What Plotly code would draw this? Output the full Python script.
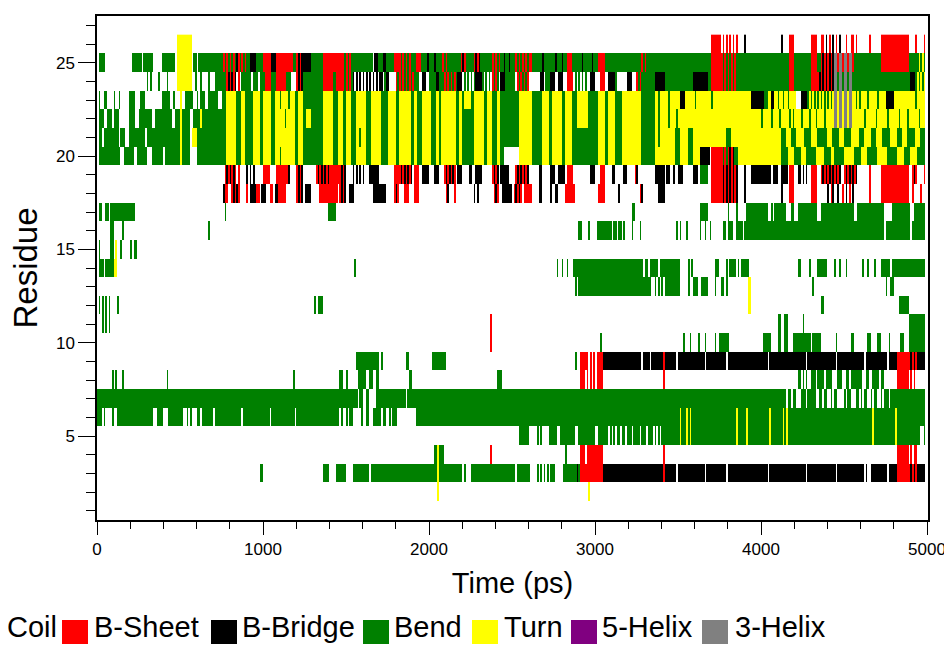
import numpy as np
import plotly.graph_objects as go

# DSSP secondary-structure states (code, name, colour)
STATE_CODES = ["~", "E", "B", "S", "T", "I", "G"]
STATE_NAMES = ["Coil", "B-Sheet", "B-Bridge", "Bend", "Turn", "5-Helix", "3-Helix"]
STATE_COLORS = ["#ffffff", "#ff0000", "#000000", "#008000", "#ffff00", "#800080", "#808080"]

T_END = 5000   # ps
DT = 10        # ps per frame

# Per-residue state runs: "<codes><start>[-<end>]" in ps, coil elsewhere.
# Several codes in one run alternate frame by frame.
turn_band = ("S780-3360 T780-840 T870-890 T940-980 T1000-1050 T1070-1190 T1210-1240 "
             "T1360-1420 T1450-1480 T1500-1530 T1560-1620 T1650-1710 T1750-1800 T1820-1890 "
             "T1910-1930 T1960-2010 T2040-2060 T2070-2160 T2180-2200 T2270-2330 T2350-2380 "
             "T2410-2430 T2540-2620 T2680-2720 T2740-2800 T2820-2860 T2890-2960 T3020-3060 "
             "T3080-3120 T3160-3280")

res01 = ""
res02 = "T2050 T2960"
res03 = ("S985 S1365-1400 S1440-1500 S1545-1595 S1605-1640 S1650-2205 S2215-2225 S2255-2515 "
         "S2535-2610 S2655 S2675 S2695 S2715 S2735-2755 S2810-2880 SB2880-2910 T2050 "
         "E2910-3050 B3050-4825 ~3490 ~3660 ~3790 ~4040 ~4270 ~4450 ~4620 ~4645 ~4760 "
         "E3415 E4825-4890 EB4890-4940 B4940-4990")
res04 = ("S2030-2090 T2050 E2375 S2820 E2910-2940 E2950-2975 E2985-3050 E3415 "
         "E4825-4890 E4900 E4925")
res05 = ("S2540-2600 S2650 S2670 S2720-2770 S2790-2880 S2900-3000 S3020-4990 ~3080 ~3100 "
         "~3120 ~3150 ~3180 ~3220 ~3270 ~3310 ~3350 ~3370 ~3390 ~4965 T3510 T3555 T3570 "
         "T3850 T3910 T4055 T4135 T4150 T4675 T4810")
res06 = ("S0-4990 ~30 ~50 ~65 ~80 ~105 ~345 ~400-430 ~525 ~550 ~570-600 ~620 ~700 ~870 "
         "~1040 ~1195 ~1460 ~1485 ~1515 ~1545-1625 S1590 ~1645 ~1715 ~1745 ~1775 ~1815 "
         "~1826-1916 T3510 T3555 T3570 T3850 T3910 T4055 T4135 T4150 T4675 T4810")
res07 = ("S0-4990 ~1575 ~1605 ~1645 ~1665 ~1860 ~4150 ~4180 ~4210-4240 ~4270 ~4330-4350 "
         "~4375 ~4405 ~4435 ~4465 ~4485 ~4515 ~4545 ~4560-4570 ~4590 ~4615 ~4645 ~4675 "
         "~4705 ~4735 ~4770")
res08 = ("S95 S115 S155 S420 S1180 S1465 S1500 S1575-1695 ~1625 ~1665 S1695 S1885-1895 "
         "S2415-2445 E2915-2940 E2950-2960 E2975 E2990 E3010-3050 E3415 S4225-4240 S4255 "
         "S4270-4285 S4300-4330 S4345-4380 S4395-4430 S4460-4490 S4510-4530 S4540-4610 "
         "S4630-4650 S4670-4710 S4725 E4825-4890 E4900 E4920")
res09 = ("S1565-1695 S1715 S1865 S2025 S2045-2095 S2880 E2910-2960 E~2970-3000 E3010-3050 "
         "B3050-4825 ~3280 ~3330 ~3490 ~3660 ~3790 ~4040 ~4270 ~4450 ~4620 ~4760 E3415 "
         "E4825-4890 EB4890-4940 B4940-4990")
res10 = ("E2375 S3035 S3530 S3570 S3620 S3660 S3720 S3750-3810 S4015-4065 S4105 S4145 "
         "S4190-4250 S4255-4300 S4310-4355 S4455 S4545 S4645 S4705 S4775 S4845-4865 S4895-4990")
res11 = "S35 S55 S70 E2375 S4105 S4145 S4255 S4895-4990"
res12 = "S15 S35 S55 S70 S120 S1315 S1335-1365 T3925 S4365 S4835-4855 S4865-4890"
res13 = ("S2880 S2905-3340 S3360 S3380 S3400 S3420-3510 S3560 S3590-3620 S3640-3680 S3720 "
         "S3765 S3790 T3925 S4315 S4755 S4785")
res14 = ("S10-40 S50-100 T100-120 S1555 S2770 S2800 S2830 S2870-3290 S3300 S3310 S3330-3510 "
         "~3380 S3560 S3580 S3720-3750 S3795 S3810 S3825 S3840 S3860 S3880-3930 S4225 S4295 "
         "S4345-4405 S4440 S4475 S4510 S4610 S4640 S4680 S4725-4780 S4790-4990")
res15 = "S10 S85 T110 S140 S200 S225"
res16 = ("S85 S155 S670 S2905 S2960 S3010-3100 S3110-3130 S3140-3160 S3170 S3220 S3270 "
         "S3490 S3510 S3550-3560 S3630 S3660 S3690 S3770-3790 S3800-3830 S3850-3890 "
         "S3900-4740 S4755-4900 S4915-4990")
res17 = ("S10-30 S55-70 S85 S100-230 S770 S1395-1445 S3220-3240 S3630-3680 S3800 S3850 "
         "S3910-4040 S4060 S4085 S4100-4150 S4185 S4225-4345 S4365 S4385 S4400-4560 "
         "S4580-4740 S4790-4900 S4920-4990")
res18 = ("B760 E770-790 EB810-860 E900 B920-960 E960-980 B990-1020 E1040-1060 B1070-1090 "
         "E1090-1140 EB1200-1240 B1250-1290 E1340-1450 EB1460-1500 B1520-1550 B1665-1735 "
         "EB1795-1825 E1855-1885 E1915-1945 EB2105-2125 EB2155 B2275 B2295 EB2395-2415 B2445 "
         "B2465-2495 EB2515-2565 E2575-2615 B2665 B2735 B2765 E2820-2880 E3020-3060 B3140 "
         "EB3270-3290 B3380-3420 E3700-3760 EB3760-3860 B3900 B4120 E4175-4205 E4305-4345 "
         "B4400 EB4420-4440 B4460 E4490 B4510 E4530 B4550 E4655 E4725-4890 E4910 E4960")
res19 = ("EB770-840 E850-860 B~900-960 E1000-1040 E1080-1140 EB1140-1160 EB1200-1240 "
         "EB1320-1400 E1400-1460 EB1460-1500 B~1545-1625 B1645-1705 E1795-1825 EB1825-1895 "
         "E1915-1945 B1965-1995 B2035-2055 EB2095-2155 B2175-2205 B2245 B2285-2315 "
         "EB2385-2415 B2435-2455 B2465-2485 EB2525-2605 B2665-2685 B2735-2765 B2785-2815 "
         "E2830-2870 B2970-3000 E3030-3060 B3100-3120 B3170-3190 EB3240-3260 B3360-3420 "
         "B3430-3450 B3470 B3500-3530 B3590-3620 S3630-3680 E3700-3760 EB3760-3860 B3900 "
         "B3940-4060 B4070-4100 B4120-4160 E4175-4205 B4225 B4250 B4275 E4300-4345 "
         "EB4365-4480 EB4505-4585 E4650 E4725-4890 EB4915-4945 E4980")
res20 = ("S10-140 S160-220 S240-300 S330-400 S410-500 T505 S510-560 S600-780 " + turn_band +
         " ~2450-2540 S2890-2960 S2200-2260 S1100-1110"
         " T3360-3480 S3480-3510 T3510-3560 S3560-3590 T3590-3630 B3630-3690 E3700-3760 "
         "ES3760-3800 EB3800-3840 S3840-3860 T3860-4125 S4125-4990 T4160-4200 T4240-4270 "
         "T4330-4380 T4420-4440 T4500-4560 T4600-4640 T4700-4760 T4820-4860 T4900-4940")
res21 = ("S10-30 S40-130 S140-170 S190-290 S300-500 T505 S510-560 T570-600 S600-780 " + turn_band +
         " S2450-2530 S2890-2960 S2200-2260 S1580"
         " T3360-3480 S3380 S3480-3510 T3510-3560 S3560-3590 T3590-3790 S3790-3820 "
         "T3820-4125 S4125-4990 T4150-4180 T4210-4260 T4300-4340 T4400-4430 T4470-4500 "
         "T4540-4590 T4620-4660 T4690-4730 T4780-4820 T4850-4880 T4930-4960")
res22 = ("S10-40 S60-90 S100-130 S190-230 S250-330 S350-450 S470-500 T505 S510-560 S580-620 "
         "T625 S630-780 " + turn_band + " S1130 T1260-1290 S2200-2260"
         " T3360-3940 S3380 S3440 S3490 T3940-4165 S4000 S4060 S4110 TS4165-4200 T4200-4445 "
         "S4240 S4290 S4330 S4380 GGT4445-4565 T4565-4990 S4620 S4690 S4760 S4830 S4880 S4950")
res23 = ("S15 S45 S100 S130 S190-230 S260-290 S395-440 S460 T500 S530-580 S600 S620-650 "
         "S670-730 S750-780 " + turn_band + " T2210-2250 S1100 S1150"
         " T3360-3510 S3380 S3440 B3510-3540 T3540-3940 S3600 S3700 B3940-4025 S4025-4045 "
         "T4045-4060 B4060-4080 T4080-4165 S4100 S4130 S4165-4175 T4175-4210 B4240-4280 "
         "ST4280-4445 GGT4445-4565 TS4565-4600 T4600-4755 S4640 S4700 B4755-4805 T4805-4990 S4930")
res24 = ("S300 S320 S370 S420 T480-570 S595 S620 S670 S715-780 EB780-840 E850-860 S870-1010 "
         "~930 ~970 E1010-1050 S1050-1080 E1080-1140 S1140-1170 EB1200-1240 S1240-1360 "
         "E1360-1420 S1420-1440 E1440-1480 ES1480-1540 B~1545-1705 B1705-1720 S1735-1755 "
         "B1745 ES1805-1915 S1925-1945 B1965-1985 S2000-2045 B2045-2065 S2065-2095 "
         "ES2095-2175 B2175-2205 S~2215-2275 B2285-2315 S~2325-2385 ES2385-2415 B2435-2465 "
         "S2465-2525 ES2535-2605 B2670-2690 S2700-2730 B2735-2765 B2780-2810 E2830-2870 "
         "S~2880-2960 B2970-3000 E3030-3060 B3080-3120 S3120-3130 B3190-3220 ES3250-3280 "
         "S3280-3360 B3360-3420 S3420-3590 B3590-3680 S3680-3700 E3700-3760 ES3760-3860 "
         "S3860-4175 E4175-4205 S4205-4300 E4300-4345 EB4345-4445 GGS4445-4565 S4565-4900 "
         "B4900-4930 ST4930-4990")
res25 = ("S10-50 S210-270 S285-345 S395-470 T480-570 S585-600 S610-760 ES760-840 B840-855 "
         "ES855-900 S900-920 B920-960 S960-1000 E1000-1050 B1050-1080 E1080-1180 S1180-1200 "
         "EB1200-1240 B1240-1290 S1290-1360 E1360-1480 ES1480-1545 S1545-1665 B1670-1690 "
         "S1690-1725 B1725-1745 S1745-1795 E1795-1825 ES1825-1895 S1895-1925 E1925-1955 "
         "S1955-2085 B1990 B2030 ES2085-2125 S2125-2195 EB2195-2225 S2225-2275 EB2275-2315 "
         "S2315-2385 ES2385-2435 S2435-2525 B2450 B2480 ES2525-2600 E2600-2620 S2620-2830 "
         "B2680 B2760 B2800 E2830-2860 S2860-3020 B2920 B2980 E3020-3060 S3060-3280 "
         "ES3280-3310 S3310-3700 E3700-3760 ES3760-3860 S3860-4175 E4175-4205 S4205-4300 "
         "E4300-4345 S4345-4365 EB4365-4445 GGE4445-4565 S4565-4725 E4725-4890 "
         "S4890-4940 ST4940-4990")
res26 = ("T480-570 E3700-3760 E3775 E3795 E3815 E3835 E3855 B3900 B4120 E4175-4205 "
         "E4300-4345 E4365-4380 B4395 E4410 B4430 E4450 B4470 E4515 E4545 E4570 E4655 "
         "E4725-4890 E4935 E4980")

residues = list(range(1, 27))
residue_runs = [res01, res02, res03, res04, res05, res06, res07, res08, res09, res10,
                res11, res12, res13, res14, res15, res16, res17, res18, res19, res20,
                res21, res22, res23, res24, res25, res26]


def decode(spec):
    n = T_END // DT
    row = np.zeros(n, dtype=int)
    for tok in spec.split():
        i = 0
        while not tok[i].isdigit():
            i += 1
        codes, span = tok[:i], tok[i:]
        if "-" in span:
            a, b = (int(v) for v in span.split("-"))
        else:
            a, b = int(span), int(span) + DT
        i0 = a // DT
        i1 = max(i0 + 1, int(round(b / DT)))
        for k in range(i0, min(i1, n)):
            row[k] = STATE_CODES.index(codes[(k - i0) % len(codes)])
    return row


z = np.array([decode(s) for s in residue_runs])
times = np.arange(DT / 2, T_END, DT)

n_states = len(STATE_CODES)
colorscale = []
for i, c in enumerate(STATE_COLORS):
    colorscale += [[i / n_states, c], [(i + 1) / n_states, c]]

fig = go.Figure(go.Heatmap(
    x=times, y=residues, z=z,
    colorscale=colorscale, zmin=-0.5, zmax=n_states - 0.5,
    showscale=False, hoverinfo="skip",
))

FONT = "Liberation Sans, Arial, Helvetica, sans-serif"
W, H = 944, 645
ML, MR, MT, MB = 97, 16, 16, 125
PW, PH = W - ML - MR, H - MT - MB


def px_x(px):
    return (px - ML) / PW


def px_y(py):
    return (H - MB - py) / PH


fig.update_layout(
    width=W, height=H,
    margin=dict(l=ML, r=MR, t=MT, b=MB, autoexpand=False),
    paper_bgcolor="white", plot_bgcolor="white",
    font=dict(family=FONT, color="black"),
    showlegend=False,
)
fig.update_xaxes(
    range=[0, 5006], tickvals=[0, 1000, 2000, 3000, 4000, 5000],
    ticks="outside", ticklen=13, tickwidth=1, tickcolor="black",
    minor=dict(dtick=200, tick0=0, ticks="outside", ticklen=7, tickcolor="black"),
    tickfont=dict(size=17, family=FONT), ticklabeloverflow="allow", automargin=False,
    showline=True, linecolor="black", linewidth=1.5, mirror=True,
    showgrid=False, zeroline=False,
    title=dict(text="Time (ps)", font=dict(size=29, family=FONT), standoff=15),
)
fig.update_yaxes(
    range=[0.5, 27.5], tickvals=[5, 10, 15, 20, 25],
    ticks="outside", ticklen=17, tickwidth=1, tickcolor="black",
    minor=dict(dtick=1, tick0=0, ticks="outside", ticklen=9, tickcolor="black"),
    tickfont=dict(size=17, family=FONT), automargin=False,
    showline=True, linecolor="black", linewidth=1.5, mirror=True,
    showgrid=False, zeroline=False,
    title=dict(text="Residue", font=dict(size=33, family=FONT), standoff=8),
)

# Legend row drawn beneath the axes: coloured box, then the state name
# (box left edge, text left edge) in pixels
legend_items = [
    (STATE_NAMES[0], None, None, 5),
    (STATE_NAMES[1], STATE_COLORS[1], 62, 92),
    (STATE_NAMES[2], STATE_COLORS[2], 211, 240),
    (STATE_NAMES[3], STATE_COLORS[3], 363, 392),
    (STATE_NAMES[4], STATE_COLORS[4], 472, 502),
    (STATE_NAMES[5], STATE_COLORS[5], 571, 600),
    (STATE_NAMES[6], STATE_COLORS[6], 702, 733),
]
BOX_W, BOX_H = 26, 24
BOX_Y = 632
TEXT_Y = 627
for name, color, bx, tx in legend_items:
    if color is not None:
        fig.add_shape(type="rect", xref="paper", yref="paper",
                      x0=px_x(bx), x1=px_x(bx + BOX_W),
                      y0=px_y(BOX_Y + BOX_H / 2), y1=px_y(BOX_Y - BOX_H / 2),
                      fillcolor=color, line=dict(width=0))
    fig.add_annotation(text=name, xref="paper", yref="paper",
                       x=px_x(tx), y=px_y(TEXT_Y), xanchor="left", yanchor="middle",
                       showarrow=False, font=dict(size=29, family=FONT, color="black"))

fig.write_html("out.html")
